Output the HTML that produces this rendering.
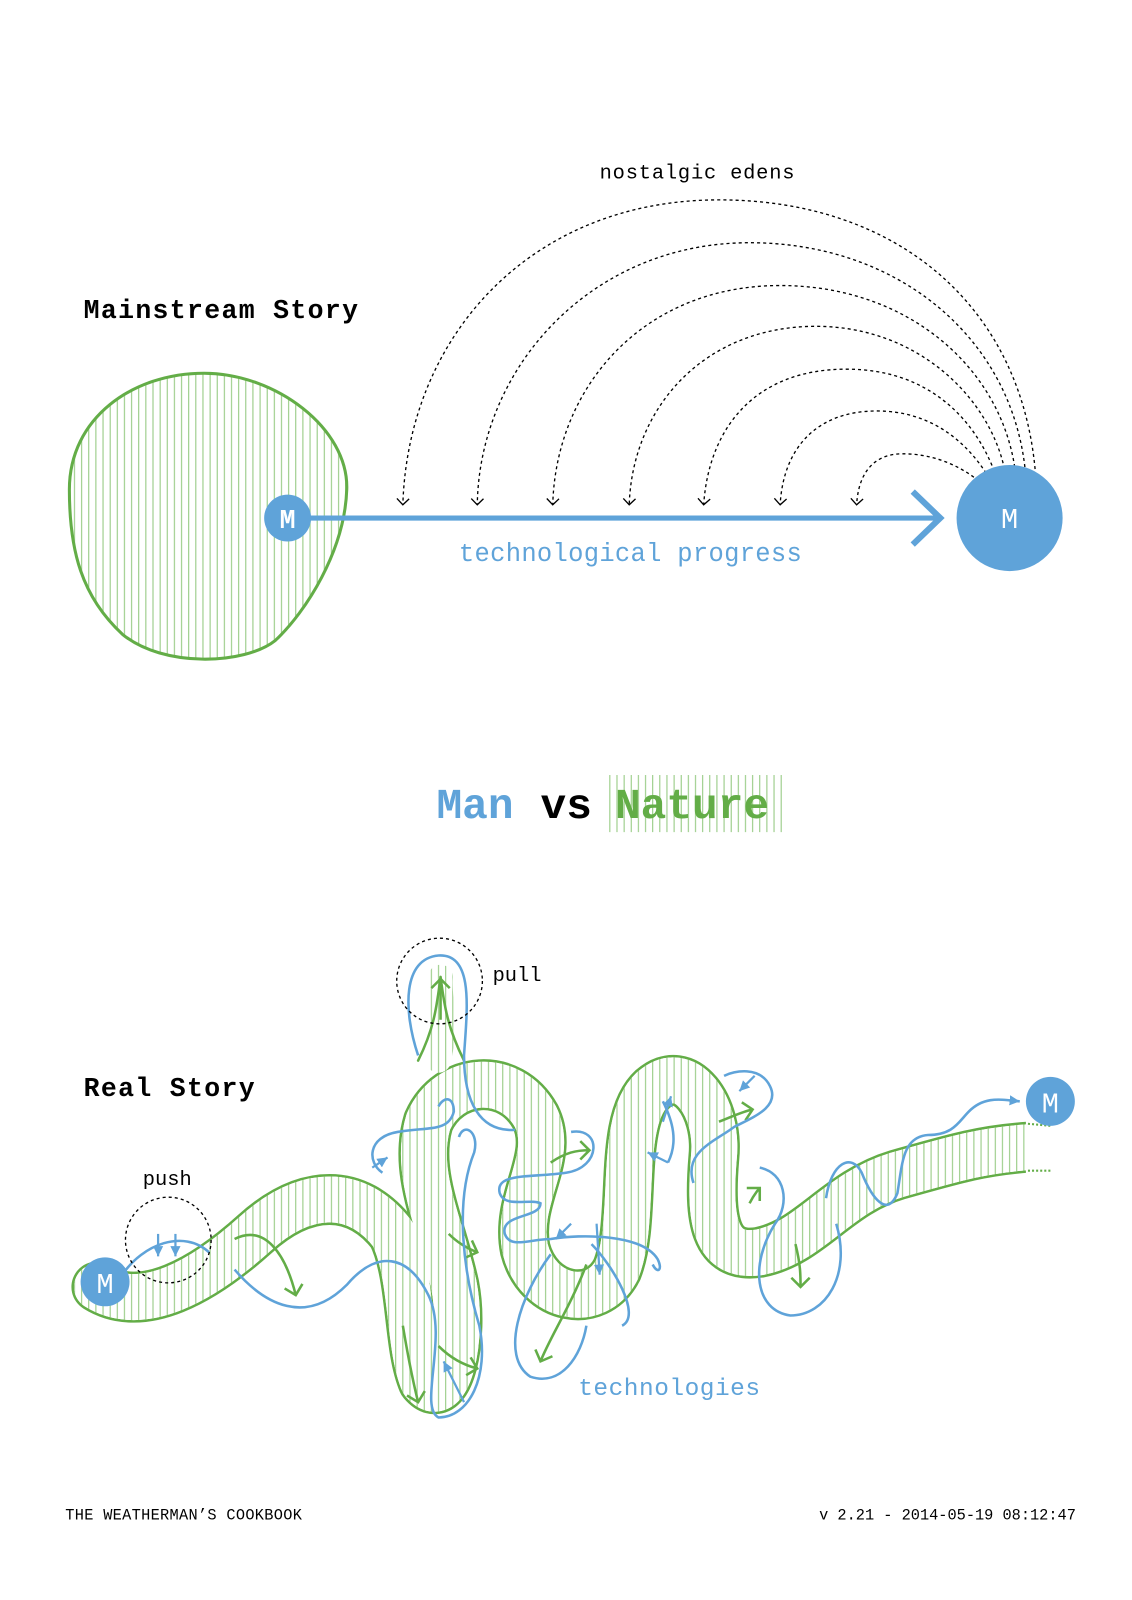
<!DOCTYPE html>
<html><head><meta charset="utf-8"><style>
html,body{margin:0;padding:0;background:#fff;width:1132px;height:1600px;overflow:hidden}
svg{display:block}
text{font-family:"Liberation Mono","DejaVu Sans Mono",monospace}
</style></head><body>
<svg width="1132" height="1600" viewBox="0 0 1110 1569" xmlns="http://www.w3.org/2000/svg">
<defs>
<pattern id="h" width="7" height="10" patternUnits="userSpaceOnUse"><rect width="7" height="10" fill="#fff"/><line x1="3" y1="0" x2="3" y2="10" stroke="#8fc77a" stroke-width="1"/></pattern>
<marker id="ah" markerWidth="14" markerHeight="14" refX="7" refY="7" orient="auto" markerUnits="userSpaceOnUse"><path d="M1,1 L7,7 L1,13" fill="none" stroke="#000" stroke-width="1.3"/></marker>
<marker id="ga" markerWidth="22" markerHeight="22" refX="11" refY="11" orient="auto" markerUnits="userSpaceOnUse"><path d="M2,2 L11,11 L2,20" fill="none" stroke="#63ad47" stroke-width="2.5"/></marker>
<marker id="ba" markerWidth="14" markerHeight="14" refX="10" refY="7" orient="auto" markerUnits="userSpaceOnUse"><path d="M0,2 L10,7 L0,12 Z" fill="#5fa3d9"/></marker>
</defs>

<!-- top -->
<text x="588" y="175" font-size="20" fill="#000" letter-spacing="0.8">nostalgic edens</text>
<text x="82" y="312" font-size="26" font-weight="bold" fill="#000" letter-spacing="1.3">Mainstream Story</text>
<path d="M200,366 C270,366 342,420 340,480 C338,540 300,600 270,628 C240,652 160,655 120,622 C80,585 68,540 68,480 C68,410 130,366 200,366 Z" fill="url(#h)" stroke="#63ad47" stroke-width="3"/>
<g fill="none" stroke="#000" stroke-width="1.3" stroke-dasharray="3,3" marker-end="url(#ah)">
<path d="M1015,460 C1000,300 880,196 705,196 C520,196 400,330 395,495"/>
<path d="M1005,458 C990,330 880,238 735,238 C580,238 470,360 468,495"/>
<path d="M995,458 C980,360 890,280 765,280 C630,280 545,380 542,495"/>
<path d="M985,460 C970,390 900,320 800,320 C690,320 620,400 617,495"/>
<path d="M975,462 C955,410 910,362 830,362 C740,362 695,420 690,495"/>
<path d="M967,464 C945,430 910,403 860,403 C800,403 768,440 765,495"/>
<path d="M955,468 C930,450 905,445 885,445 C860,445 842,460 840,495"/>
</g>
<line x1="282" y1="508" x2="918" y2="508" stroke="#5fa3d9" stroke-width="5"/>
<path d="M895,482 L922,508 L895,534" fill="none" stroke="#5fa3d9" stroke-width="6"/>
<circle cx="282" cy="508" r="23" fill="#5fa3d9"/>
<text x="282" y="518" font-size="26" fill="#fff" text-anchor="middle" font-weight="bold">M</text>
<circle cx="990" cy="508" r="52" fill="#5fa3d9"/>
<text x="990" y="518" font-size="28" fill="#fff" text-anchor="middle">M</text>
<text x="450" y="550" font-size="25" fill="#5fa3d9" letter-spacing="0.3">technological progress</text>

<!-- middle -->
<rect x="592" y="760" width="176" height="56" fill="url(#h)"/>
<text x="428" y="802" font-size="42" font-weight="bold" fill="#5fa3d9">Man</text>
<text x="530" y="802" font-size="42" font-weight="bold" fill="#000">vs</text>
<text x="603" y="802" font-size="42" font-weight="bold" fill="#63ad47">Nature</text>

<!-- bottom -->
<text x="82" y="1075" font-size="26" font-weight="bold" fill="#000" letter-spacing="1.3">Real Story</text>
<text x="140" y="1162" font-size="20" fill="#000">push</text>
<text x="483" y="962" font-size="20" fill="#000">pull</text>
<text x="567" y="1368" font-size="24" fill="#5fa3d9" letter-spacing="0.5">technologies</text>

<g fill="none" stroke-linejoin="round" stroke-linecap="round">
<path id="c" d="M95,1262 C140,1290 200,1255 250,1210 C300,1165 350,1165 385,1210 C405,1250 400,1320 415,1355 C440,1385 455,1310 445,1260 C432,1200 405,1150 420,1100 C440,1055 500,1050 525,1095 C545,1135 505,1175 515,1225 C528,1275 585,1285 605,1245 C625,1195 605,1100 640,1068 C672,1040 705,1085 700,1135 C695,1195 700,1235 745,1228 C795,1218 820,1170 880,1152 C940,1135 965,1128 1008,1125"/>
<use href="#c" stroke="#63ad47" stroke-width="50"/>
<use href="#c" stroke="#fff" stroke-width="45"/>
<use href="#c" stroke="url(#h)" stroke-width="45"/>
<rect x="1006" y="1095" width="40" height="60" fill="#fff" stroke="none"/>
<path d="M430,1040 C440,1000 430,980 432,958" stroke="url(#h)" stroke-width="24"/>
<path d="M410,1040 C425,1010 428,990 432,958 M455,1040 C440,1010 436,990 432,958" stroke="#63ad47" stroke-width="2.5"/>
</g>
<g fill="none" stroke="#63ad47" stroke-width="2.5" marker-end="url(#ga)">
<path d="M432,1000 L432,960"/>
<path d="M230,1215 C260,1200 280,1230 290,1270"/>
<path d="M395,1300 C400,1330 405,1355 410,1375"/>
<path d="M430,1320 C445,1335 460,1340 468,1342"/>
<path d="M440,1210 C450,1220 460,1225 468,1228"/>
<path d="M540,1140 C555,1130 565,1128 578,1128"/>
<path d="M575,1240 C560,1280 540,1310 530,1335"/>
<path d="M705,1100 C718,1095 728,1090 738,1088"/>
<path d="M735,1180 C740,1170 745,1165 745,1165"/>
<path d="M780,1220 C785,1240 785,1250 785,1262"/>
</g>
<g fill="none" stroke="#5fa3d9" stroke-width="2.5">
<path d="M410,1035 C395,990 395,940 430,937 C465,935 458,990 455,1035 C455,1080 470,1110 505,1108"/>
<path d="M120,1250 C140,1220 180,1205 205,1228"/>
<path d="M230,1245 C260,1280 300,1300 340,1260 C370,1225 400,1230 420,1270 C440,1310 410,1380 430,1390 C460,1390 480,1350 470,1300 C455,1250 445,1180 465,1130 C470,1110 455,1100 450,1115"/>
<path d="M375,1150 C360,1140 360,1115 390,1110 C420,1105 440,1110 445,1090 C445,1075 435,1075 430,1085"/>
<path d="M560,1110 C590,1105 590,1145 555,1150 C520,1155 485,1150 490,1170 C495,1185 520,1175 530,1180 C530,1195 490,1190 495,1210 C500,1225 520,1215 540,1215 C570,1210 630,1210 645,1235 C650,1245 645,1250 640,1240"/>
<path d="M540,1230 C510,1270 490,1330 520,1350 C550,1360 570,1330 575,1300"/>
<path d="M580,1220 C600,1240 630,1290 610,1300"/>
<path d="M680,1160 C670,1130 700,1120 720,1105 C740,1095 765,1085 755,1065 C745,1045 720,1050 710,1055"/>
<path d="M650,1080 C660,1100 665,1120 655,1140"/>
<path d="M745,1145 C770,1150 775,1180 760,1200 C735,1240 740,1285 775,1290 C810,1290 835,1250 820,1200"/>
<path d="M810,1175 C815,1140 835,1130 845,1150 C855,1175 870,1195 880,1170 C885,1140 885,1115 910,1113 C935,1113 940,1100 950,1090 C965,1075 980,1078 1000,1080" marker-end="url(#ba)"/>
</g>
<g stroke="#5fa3d9" stroke-width="2.2" marker-end="url(#ba)" fill="none">
<path d="M155,1210 L155,1232"/>
<path d="M172,1210 L172,1232"/>
<path d="M455,1375 L435,1335"/>
<path d="M365,1145 L380,1135"/>
<path d="M560,1200 L545,1215"/>
<path d="M585,1200 L588,1250"/>
<path d="M650,1100 L658,1075"/>
<path d="M655,1140 L635,1130"/>
<path d="M740,1055 L725,1070"/>
</g>
<g fill="none" stroke="#000" stroke-width="1.3" stroke-dasharray="3,3">
<circle cx="431" cy="962" r="42"/>
<circle cx="165" cy="1216" r="42"/>
</g>
<g stroke="#63ad47" stroke-width="2" stroke-dasharray="2,2"><path d="M1008,1102 L1030,1104 M1008,1148 L1030,1148"/></g>
<circle cx="103" cy="1257" r="24" fill="#5fa3d9"/>
<text x="103" y="1268" font-size="28" fill="#fff" text-anchor="middle">M</text>
<circle cx="1030" cy="1080" r="24" fill="#5fa3d9"/>
<text x="1030" y="1091" font-size="28" fill="#fff" text-anchor="middle">M</text>

<text x="64" y="1490" font-size="15" fill="#000" letter-spacing="0.3">THE WEATHERMAN’S COOKBOOK</text>
<text x="1055" y="1490" font-size="15" fill="#000" text-anchor="end">v 2.21 - 2014-05-19 08:12:47</text>
</svg>
</body></html>
